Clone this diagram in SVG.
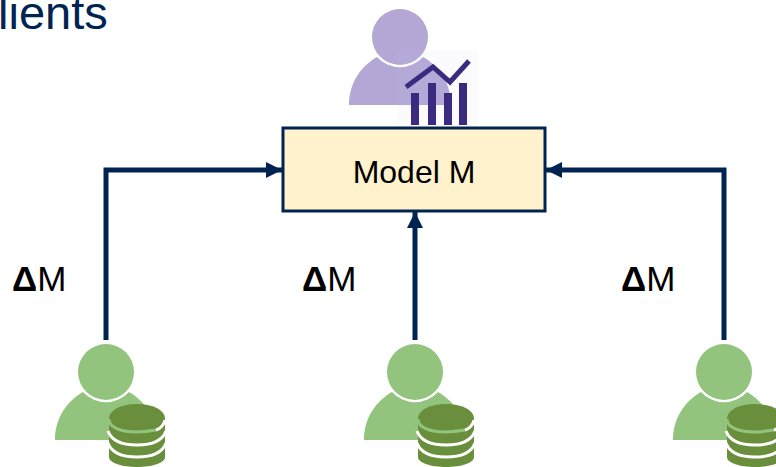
<svg xmlns="http://www.w3.org/2000/svg" width="776" height="467" viewBox="0 0 776 467">
<style>
text{font-family:"Liberation Sans",Arial,sans-serif}
.lbl{font-size:35px;fill:#000}
.conn{fill:none;stroke:#002451;stroke-width:5}
.cyl{fill:#6a8f3c}
.stripe{fill:none;stroke:#fff;stroke-width:3}
</style>
<defs>
<marker id="arrow" markerUnits="userSpaceOnUse" markerWidth="17" markerHeight="16" refX="16" refY="8" orient="auto"><path d="M0 0L16 8L0 16Z" fill="#002451"/></marker>
<g id="body"><path d="M-51 68C-51 46-39 29-23 20A31 31 0 0 0 23 20C39 29 51 46 51 68Z"/><circle r="28"/></g>
<g id="client">
<use href="#body" fill="#93c47d"/>
<path class="cyl" d="M3 46A28 14 0 0 1 59 46V85C59 91 46 95 31 95C16 95 3 91 3 85Z"/>
<path d="M3 47C3 56 16 60 31 60C38 60 43 59 50 58" fill="none" stroke="#93c47d" stroke-width="3"/>
<path d="M50 58C54 57 58 53 59 48" class="stripe"/>
<path class="stripe" d="M2 59C6 70 18 73 31 73C44 73 56 70 60 59"/>
<path class="stripe" d="M2 71C6 82 18 85 31 85C44 85 56 82 60 71"/>
</g>
</defs>
<text id="title" x="-2" y="29" font-size="47" fill="#002451">lients</text>
<g id="connectors">
<path class="conn" d="M106 340V170H282" marker-end="url(#arrow)"/>
<path class="conn" d="M415 340V212" marker-end="url(#arrow)"/>
<path class="conn" d="M724 340V170H546" marker-end="url(#arrow)"/>
</g>
<g id="analyst">
<use href="#body" x="400" y="37" fill="#b4a7d6"/>
<rect x="397" y="50" width="81" height="76" fill="#c8c8e0" opacity=".08"/>
<path d="M406 87L433 67L450 82L469 61" fill="none" stroke="#3b2a80" stroke-width="5"/>
<path d="M411 93h8v32h-8zM428 83h8v42h-8zM444 93h8v32h-8zM459 83h8v42h-8z" fill="#3b2a80"/>
</g>
<g id="model">
<rect x="283" y="128" width="262" height="83" fill="#fff2cc" stroke="#002451" stroke-width="3"/>
<text x="414" y="183" font-size="32" text-anchor="middle" fill="#000">Model M</text>
</g>
<g id="client1"><use href="#client" x="106" y="372"/><text class="lbl" x="12" y="291"><tspan font-weight="bold">Δ</tspan>M</text></g>
<g id="client2"><use href="#client" x="415" y="372"/><text class="lbl" x="302" y="291"><tspan font-weight="bold">Δ</tspan>M</text></g>
<g id="client3"><use href="#client" x="724" y="372"/><text class="lbl" x="621" y="291"><tspan font-weight="bold">Δ</tspan>M</text></g>
</svg>
